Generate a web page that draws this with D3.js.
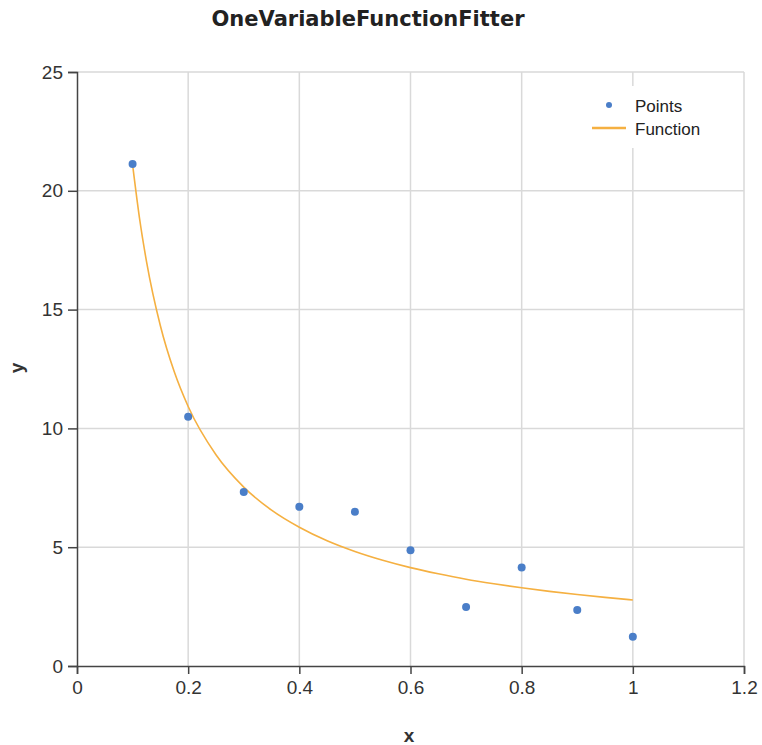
<!DOCTYPE html>
<html><head><meta charset="utf-8">
<script src="https://cdn.jsdelivr.net/npm/d3@7"></script>
<style>body{margin:0;background:#fff}svg{display:block}</style>
</head><body>
<svg id="c" width="762" height="745"></svg>
<script>
const pointX = [0.1,0.2,0.3,0.4,0.5,0.6,0.7,0.8,0.9,1.0];
const pointY = [21.13,10.49,7.32,6.70,6.49,4.87,2.48,4.15,2.36,1.23];
const funcX = [0.1,0.1125,0.125,0.15,0.175,0.2,0.25,0.3,0.35,0.4,0.45,0.5,0.55,0.6,0.65,0.7,0.75,0.8,0.85,0.9,0.95,1.0];
const funcY = [21.1,18.84,17.03,14.32,12.38,10.92,8.89,7.53,6.56,5.84,5.27,4.82,4.45,4.14,3.88,3.65,3.46,3.29,3.14,3.01,2.89,2.78];
const xTicks = [0,0.2,0.4,0.6,0.8,1,1.2];
const yTicks = [0,5,10,15,20,25];
const seriesNames = ["Points","Function"];
const titleText = "OneVariableFunctionFitter";

const svg = d3.select("#c");
const L=77, R=744, T=72, B=666;
const x = d3.scaleLinear().domain([0,1.2]).range([L,R]);
const y = d3.scaleLinear().domain([0,25]).range([B,T]);

// grid
svg.append("g").selectAll("line").data(xTicks.slice(1)).join("line")
  .attr("x1",d=>x(d)).attr("x2",d=>x(d)).attr("y1",T).attr("y2",B)
  .attr("stroke","#d9d9d9").attr("stroke-width",1.5);
svg.append("g").selectAll("line").data(yTicks.slice(1)).join("line")
  .attr("x1",L).attr("x2",R).attr("y1",d=>y(d)).attr("y2",d=>y(d))
  .attr("stroke","#d9d9d9").attr("stroke-width",1.5);

// axes
const fmt = d=>String(d);
const gx = svg.append("g").attr("transform",`translate(0,${B})`)
  .call(d3.axisBottom(x).tickValues(xTicks).tickFormat(fmt).tickSize(8).tickPadding(7));
const gy = svg.append("g").attr("transform",`translate(${L},0)`)
  .call(d3.axisLeft(y).tickValues(yTicks).tickFormat(fmt).tickSize(9).tickPadding(5));
[gx,gy].forEach(g=>{
  g.select(".domain").attr("stroke","#444").attr("stroke-width",1.5);
  g.selectAll(".tick line").attr("stroke","#444").attr("stroke-width",1.5);
  g.selectAll("text").attr("fill","#333").style("font-family","Liberation Sans, Arial, sans-serif").style("font-size","19px");
});

// legend background
const legG = svg.append("g");
legG.append("rect").attr("x",586).attr("y",86).attr("width",126).attr("height",62).attr("fill","#fff");

// function line
const line = d3.line().x((d,i)=>x(funcX[i])).y(d=>y(d)).curve(d3.curveMonotoneX);
svg.append("path").datum(funcY).attr("d",line).attr("fill","none")
  .attr("stroke","#f5b041").attr("stroke-width",1.6);

// points
svg.append("g").selectAll("circle").data(pointY).join("circle")
  .attr("cx",(d,i)=>x(pointX[i])).attr("cy",d=>y(d)).attr("r",4)
  .attr("fill","#4a7ec8");

// legend
legG.append("circle").attr("cx",609).attr("cy",105).attr("r",3).attr("fill","#4a7ec8");
legG.append("line").attr("x1",592).attr("x2",626).attr("y1",128).attr("y2",128)
  .attr("stroke","#f5b041").attr("stroke-width",2.5);
legG.selectAll("text").data(seriesNames).join("text")
  .attr("x",635).attr("y",(d,i)=>112+i*23).text(d=>d)
  .attr("fill","#222").style("font-family","Liberation Sans, Arial, sans-serif").style("font-size","17px");

// title & labels
svg.append("text").attr("x",368).attr("y",26).attr("text-anchor","middle")
  .style("font-family","DejaVu Sans, sans-serif").style("font-weight","bold").style("font-size","21px")
  .attr("fill","#222").text(titleText);
svg.append("text").attr("x",409).attr("y",742).attr("text-anchor","middle")
  .style("font-family","Liberation Sans, Arial, sans-serif").style("font-weight","bold").style("font-size","19px")
  .attr("fill","#333").text("x");
svg.append("text").attr("transform","translate(23,368) rotate(-90)").attr("text-anchor","middle")
  .style("font-family","Liberation Sans, Arial, sans-serif").style("font-weight","bold").style("font-size","19px")
  .attr("fill","#333").text("y");
</script>
</body></html>
